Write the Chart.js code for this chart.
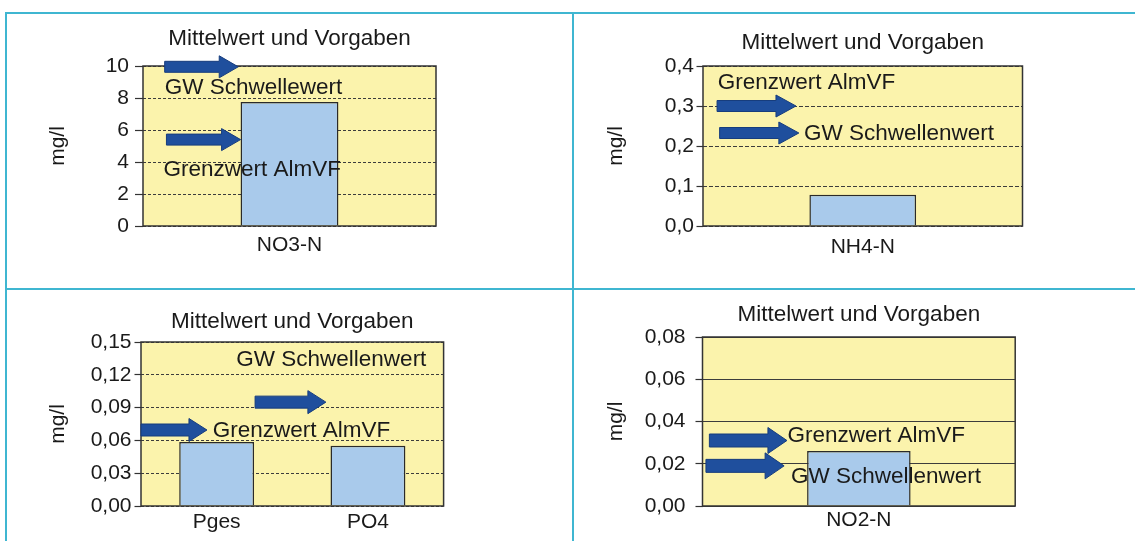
<!DOCTYPE html>
<html lang="de">
<head>
<meta charset="utf-8">
<title>Mittelwert und Vorgaben</title>
<script src="https://cdn.jsdelivr.net/npm/chart.js@4.4.1/dist/chart.umd.min.js"></script>
<style>
  html, body { margin: 0; padding: 0; background: #ffffff; }
  body { width: 1135px; height: 541px; position: relative; overflow: hidden; }
  .rule { position: absolute; background: #3fb6d1; }
  canvas { position: absolute; }
</style>
</head>
<body>
<div class="rule" style="left:5px;top:12px;width:1130px;height:2px"></div>
<div class="rule" style="left:5px;top:288px;width:1130px;height:2px"></div>
<div class="rule" style="left:5px;top:12px;width:2px;height:529px"></div>
<div class="rule" style="left:572px;top:12px;width:2px;height:529px"></div>
<canvas id="no3" width="565" height="274" style="left:7px;top:14px"></canvas>
<canvas id="nh4" width="561" height="274" style="left:574px;top:14px"></canvas>
<canvas id="phos" width="565" height="251" style="left:7px;top:290px"></canvas>
<canvas id="no2" width="561" height="251" style="left:574px;top:290px"></canvas>
<script>
// ---- Nitrat-Stickstoff ----
const no3Categories = ['NO3-N'];
const no3Values = [7.75];
const no3TickValues = [0, 2, 4, 6, 8, 10];
const no3TickLabels = ['0', '2', '4', '6', '8', '10'];
const no3Limits = [9.95, 5.4];
const no3LimitTexts = ['GW Schwellewert', 'Grenzwert AlmVF'];

// ---- Ammonium-Stickstoff ----
const nh4Categories = ['NH4-N'];
const nh4Values = [0.078];
const nh4TickValues = [0, 0.1, 0.2, 0.3, 0.4];
const nh4TickLabels = ['0,0', '0,1', '0,2', '0,3', '0,4'];
const nh4Limits = [0.3, 0.2325];
const nh4LimitTexts = ['Grenzwert AlmVF', 'GW Schwellenwert'];

// ---- Phosphor ----
const phosCategories = ['Pges', 'PO4'];
const phosValues = [0.0585, 0.055];
const phosTickValues = [0, 0.03, 0.06, 0.09, 0.12, 0.15];
const phosTickLabels = ['0,00', '0,03', '0,06', '0,09', '0,12', '0,15'];
const phosLimits = [0.0695, 0.095];
const phosLimitTexts = ['Grenzwert AlmVF', 'GW Schwellenwert'];

// ---- Nitrit-Stickstoff ----
const no2Categories = ['NO2-N'];
const no2Values = [0.026];
const no2TickValues = [0, 0.02, 0.04, 0.06, 0.08];
const no2TickLabels = ['0,00', '0,02', '0,04', '0,06', '0,08'];
const no2Limits = [0.031, 0.019];
const no2LimitTexts = ['Grenzwert AlmVF', 'GW Schwellenwert'];

const TITLE = 'Mittelwert und Vorgaben';
const UNIT = 'mg/l';
const FONT = '"Liberation Sans", Arial, Helvetica, sans-serif';
const INK = '#1a1a1a';
const FRAME = '#333333';
const PLOT_BG = '#fbf3ac';
const BAR_FILL = '#a9caeb';
const ARROW_FILL = '#1f4f9d';
const ARROW_EDGE = '#173d7d';
const LABEL_SIZE = 22.5;

Chart.defaults.font.family = FONT;
Chart.defaults.color = INK;

// Page placement of each panel: canvas box, plot rectangle, title / axis text positions,
// arrow geometry (fractions of plot width) and label anchors (x fraction, y in axis units).
const panels = [
  {
    id: 'no3', cx: 7, cy: 14, cw: 565, ch: 274,
    plot: { l: 143, t: 66, r: 436, b: 226 },
    titleY: 39, unitX: 58, catY: 245.5, tickLen: 8, tickPad: 6, dash: [3, 2], bar: 0.334,
    categories: no3Categories, values: no3Values, tickValues: no3TickValues, tickLabels: no3TickLabels,
    limits: no3Limits, texts: no3LimitTexts,
    arrows: [ { from: 0.074, to: 0.325, body: 11, head: 22, tip: 19 },
              { from: 0.080, to: 0.333, body: 11, head: 22, tip: 19 } ],
    labels: [ { x: 0.074, at: 8.63 },
              { x: 0.070, at: 3.5 } ]
  },
  {
    id: 'nh4', cx: 574, cy: 14, cw: 561, ch: 274,
    plot: { l: 703, t: 66, r: 1022.5, b: 226 },
    titleY: 42.3, unitX: 616, catY: 247.3, tickLen: 6.5, tickPad: 2.5, dash: [4, 2], bar: 0.334,
    categories: nh4Categories, values: nh4Values, tickValues: nh4TickValues, tickLabels: nh4TickLabels,
    limits: nh4Limits, texts: nh4LimitTexts,
    arrows: [ { from: 0.044, to: 0.291, body: 11, head: 22, tip: 20 },
              { from: 0.052, to: 0.300, body: 11, head: 22, tip: 20 } ],
    labels: [ { x: 0.046, at: 0.3575 },
              { x: 0.316, at: 0.23 } ]
  },
  {
    id: 'phos', cx: 7, cy: 290, cw: 565, ch: 251,
    plot: { l: 141, t: 342, r: 443.6, b: 506 },
    titleY: 321.7, unitX: 58, catY: 522, tickLen: 6.5, tickPad: 3, dash: [3, 2], bar: 0.495,
    categories: phosCategories, values: phosValues, tickValues: phosTickValues, tickLabels: phosTickLabels,
    limits: phosLimits, texts: phosLimitTexts,
    arrows: [ { from: 0.0, to: 0.218, body: 12, head: 23, tip: 18 },
              { from: 0.377, to: 0.611, body: 12, head: 23, tip: 18 } ],
    labels: [ { x: 0.237, at: 0.0686 },
              { x: 0.315, at: 0.1335 } ]
  },
  {
    id: 'no2', cx: 574, cy: 290, cw: 561, ch: 251,
    plot: { l: 702.5, t: 337, r: 1015.2, b: 506 },
    titleY: 315, unitX: 616, catY: 520, tickLen: 7, tickPad: 10, dash: [], bar: 0.331,
    categories: no2Categories, values: no2Values, tickValues: no2TickValues, tickLabels: no2TickLabels,
    limits: no2Limits, texts: no2LimitTexts,
    arrows: [ { from: 0.022, to: 0.270, body: 13, head: 26, tip: 19 },
              { from: 0.011, to: 0.261, body: 13, head: 26, tip: 19 } ],
    labels: [ { x: 0.272, at: 0.0333 },
              { x: 0.283, at: 0.0139 } ]
  }
];

function drawArrow(ctx, x0, x1, yc, body, head, tip) {
  const xh = x1 - tip;
  ctx.beginPath();
  ctx.moveTo(x0, yc - body / 2);
  ctx.lineTo(xh, yc - body / 2);
  ctx.lineTo(xh, yc - head / 2);
  ctx.lineTo(x1, yc);
  ctx.lineTo(xh, yc + head / 2);
  ctx.lineTo(xh, yc + body / 2);
  ctx.lineTo(x0, yc + body / 2);
  ctx.closePath();
  ctx.fillStyle = ARROW_FILL;
  ctx.fill();
  ctx.lineWidth = 1;
  ctx.strokeStyle = ARROW_EDGE;
  ctx.stroke();
}

// Yellow plot background, frame, limit arrows and their captions.
function limitsPlugin(p) {
  return {
    id: 'limits',
    beforeDraw(chart) {
      const a = chart.chartArea;
      const ctx = chart.ctx;
      ctx.save();
      ctx.fillStyle = PLOT_BG;
      ctx.fillRect(a.left, a.top, a.right - a.left, a.bottom - a.top);
      ctx.restore();
    },
    afterDatasetsDraw(chart) {
      const a = chart.chartArea;
      const ctx = chart.ctx;
      const y = chart.scales.y;
      const w = a.right - a.left;
      ctx.save();
      ctx.strokeStyle = FRAME;
      ctx.lineWidth = 1.5;
      ctx.strokeRect(a.left, a.top, w, a.bottom - a.top);
      p.arrows.forEach((ar, i) => {
        drawArrow(ctx, a.left + ar.from * w, a.left + ar.to * w,
                  y.getPixelForValue(p.limits[i]), ar.body, ar.head, ar.tip);
      });
      ctx.fillStyle = INK;
      ctx.textAlign = 'left';
      ctx.textBaseline = 'middle';
      ctx.font = LABEL_SIZE + 'px ' + FONT;
      p.labels.forEach((lb, i) => {
        ctx.fillText(p.texts[i], a.left + lb.x * w, y.getPixelForValue(lb.at));
      });
      ctx.restore();
    }
  };
}

function buildChart(p) {
  const titleSize = 22.5, tickSize = 21, lh = 1.2;
  const tPadTop = p.titleY - p.cy - titleSize * lh / 2;
  const tPadBottom = p.plot.t - p.cy - tPadTop - titleSize * lh;
  const yWidth = p.plot.l - p.cx;
  const xHeight = p.cy + p.ch - p.plot.b;
  const xPad = p.catY - p.plot.b - tickSize * lh / 2;

  return new Chart(document.getElementById(p.id), {
    type: 'bar',
    data: {
      labels: p.categories,
      datasets: [{
        data: p.values,
        backgroundColor: BAR_FILL,
        borderColor: '#2a2a2a',
        borderWidth: 1.5,
        barPercentage: p.bar,
        categoryPercentage: 1
      }]
    },
    options: {
      responsive: false,
      animation: false,
      devicePixelRatio: 1,
      layout: { padding: { left: 0, top: 0, right: p.cx + p.cw - p.plot.r, bottom: 0 } },
      plugins: {
        legend: { display: false },
        tooltip: { enabled: false },
        title: {
          display: true,
          text: TITLE,
          fullSize: false,
          color: INK,
          font: { size: titleSize, weight: 'normal', lineHeight: lh },
          padding: { top: tPadTop, bottom: tPadBottom }
        }
      },
      scales: {
        x: {
          type: 'category',
          grid: { display: false, drawTicks: false, tickLength: 0 },
          border: { display: false },
          ticks: { font: { size: tickSize, lineHeight: lh }, color: INK, padding: xPad, maxRotation: 0 },
          afterFit(s) { s.height = xHeight; }
        },
        y: {
          min: p.tickValues[0],
          max: p.tickValues[p.tickValues.length - 1],
          afterBuildTicks(s) { s.ticks = p.tickValues.map(v => ({ value: v })); },
          ticks: {
            font: { size: tickSize, lineHeight: lh },
            color: INK,
            padding: p.tickPad,
            callback: (v, i) => p.tickLabels[i]
          },
          grid: {
            color: '#3c3c3c',
            lineWidth: 1,
            drawTicks: true,
            tickLength: p.tickLen,
            tickColor: FRAME,
            tickWidth: 1.2,
            tickBorderDash: []
          },
          border: { display: false, dash: p.dash },
          title: {
            display: true,
            text: UNIT,
            color: INK,
            font: { size: 21, lineHeight: lh },
            padding: { top: p.unitX - p.cx - 21 * lh / 2, bottom: 0 }
          },
          afterFit(s) { s.width = yWidth; }
        }
      }
    },
    plugins: [limitsPlugin(p)]
  });
}

panels.forEach(buildChart);
</script>
</body>
</html>
